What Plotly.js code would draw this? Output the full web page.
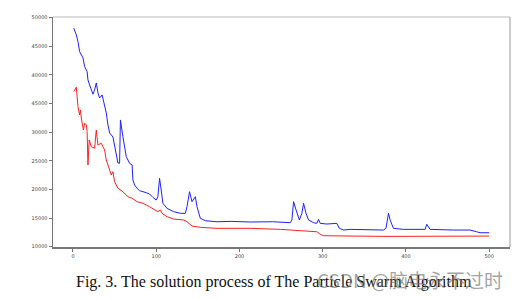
<!DOCTYPE html>
<html><head><meta charset="utf-8">
<script src="https://cdn.plot.ly/plotly-3.0.1.min.js"></script>
<style>html,body{margin:0;padding:0;background:#fff;}#chart{width:524px;height:299px;}</style>
</head><body><div id="chart"></div>
<script>
var blueIter = [1,4,6,8,12,14,17,18,20,24,26,28,30,32,35,38,40,42,44,48,50,52,54,56,57,60,64,68,71,72,74,77,80,88,92,96,100,102,104,106,108,113,121,129,135,137,140,143,147,149,153,159,173,190,213,240,261,263,265,268,272,275,277,280,283,289,293,295,297,305,317,320,325,333,353,373,376,378,379,381,385,397,423,425,429,457,477,485,489,500];
var blueVal = [48150,46980,45810,44060,42960,41440,40570,39120,38240,36620,37370,38590,36850,35970,36500,34750,33350,31260,29860,29160,27410,26010,24620,24560,32130,29210,25720,24560,24270,21650,20770,20200,19780,19430,19200,18620,18150,18730,21940,19900,17580,16700,16110,15830,15830,16980,19600,17860,18730,16980,14960,14540,14360,14420,14310,14360,14190,14660,17860,16420,14660,15830,17580,15830,14660,14190,14080,14780,14080,13960,14080,13210,12910,13030,12910,12910,13210,15530,15830,14660,13210,13030,13030,13910,13030,12910,12910,12610,12440,12440];
var redIter = [1,4,5,6,8,9,10,12,12.5,14,16,17,18,19.5,22,26,28,30,34,36,38,40,44,46,48,50,54,60,66,71,77,84,92,99,102,105,107,113,121,133,137,143,153,173,213,249,277,293,297,301,333,381,500];
var redVal = [37070,37840,36200,34450,33000,33880,32480,30960,30380,31550,31260,30080,24270,28630,27460,27180,30380,27760,28060,27460,26890,25140,23390,22520,23100,21350,20200,19600,18730,18450,17860,17580,16980,16410,16110,16410,15830,15240,14830,14660,14360,13610,13380,13210,13210,13030,12790,12610,12160,11920,11860,11800,11860];
var xTicks = [0,100,200,300,400,500];
var yTicks = [10000,15000,20000,25000,30000,35000,40000,45000,50000];
var yTickText = ['10000','15000','20000','25000','30000','45000','40000','45000','50000'];
var caption = 'Fig. 3. The solution process of The Particle Swarm Algorithm';
var watermark = 'CSDN @脑电永不过时';

var traces = [
  {x: blueIter, y: blueVal, type:'scatter', mode:'lines', line:{color:'#2020ff', width:1}, hoverinfo:'none'},
  {x: redIter, y: redVal, type:'scatter', mode:'lines', line:{color:'#ff2020', width:1}, hoverinfo:'none'}
];
var axisCommon = {
  showgrid:false, zeroline:false, showline:true, linecolor:'#777', linewidth:1.5,
  mirror:false, ticks:'outside', ticklen:3, tickwidth:1, tickcolor:'#777',
  tickfont:{size:5, color:'#444', family:'DejaVu Sans'}
};
var layout = {
  width:524, height:299,
  margin:{l:53, r:14, t:17, b:52, pad:0},
  paper_bgcolor:'#fff', plot_bgcolor:'#fff', showlegend:false,
  xaxis: Object.assign({}, axisCommon, {range:[-24,525], tickvals:xTicks, ticktext:xTicks.map(String)}),
  yaxis: Object.assign({}, axisCommon, {range:[9950,50100], tickvals:yTicks, ticktext:yTickText}),
  shapes:[
    {type:'line', xref:'paper', yref:'paper', x0:0, x1:1, y0:1, y1:1, line:{color:'#bbb', width:1}},
    {type:'line', xref:'paper', yref:'paper', x0:1, x1:1, y0:0, y1:1, line:{color:'#ccc', width:2}}
  ],
  annotations:[
    {xref:'paper', yref:'paper', x:0.4825, y:-0.152, yanchor:'middle', xanchor:'center', showarrow:false,
     text:caption, font:{family:'Liberation Serif', size:16, color:'#111'}},
    {xref:'paper', yref:'paper', x:0.99, y:-0.143, yanchor:'middle', xanchor:'right', showarrow:false,
     text:watermark, font:{family:'Noto Sans CJK SC', size:19, color:'rgba(110,110,110,0.65)'}}
  ]
};
Plotly.newPlot('chart', traces, layout, {displayModeBar:false, staticPlot:true});
</script></body></html>
